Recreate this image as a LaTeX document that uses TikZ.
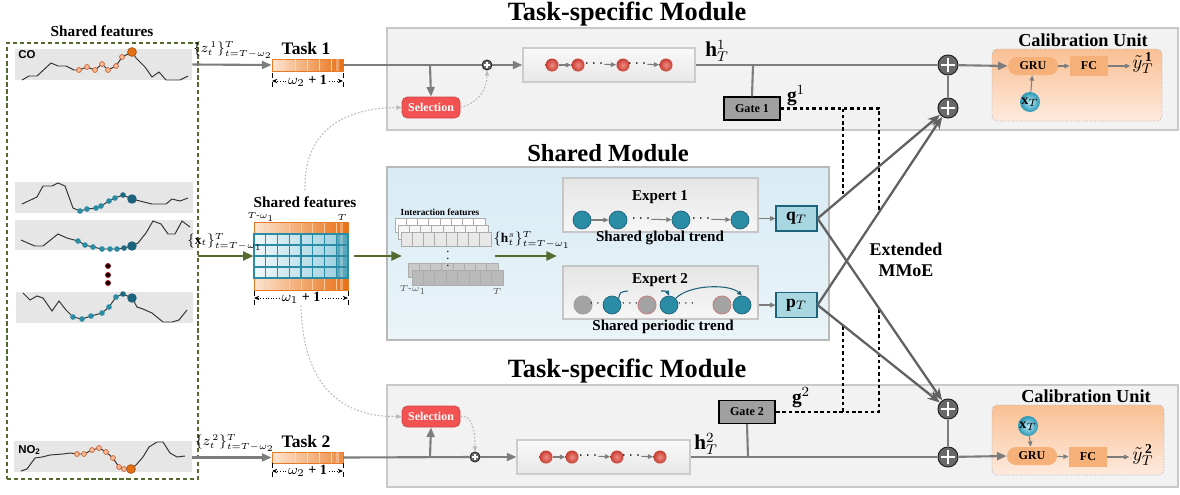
\documentclass[tikz,border=0pt]{standalone}
\usepackage{fontspec}
\setmainfont{Liberation Serif}
\setsansfont{Liberation Sans}
\usetikzlibrary{arrows.meta,calc}
\definecolor{myolive}{RGB}{84,106,46}
\definecolor{modfill}{RGB}{242,242,242}
\definecolor{modline}{RGB}{200,200,200}
\definecolor{chartbg}{RGB}{230,230,230}
\definecolor{orL}{RGB}{253,228,208}
\definecolor{orD}{RGB}{232,112,20}
\definecolor{orEdge}{RGB}{232,122,40}
\definecolor{blL}{RGB}{240,248,251}
\definecolor{blD}{RGB}{150,205,222}
\definecolor{tealC}{RGB}{42,140,165}
\definecolor{tealD}{RGB}{28,98,122}
\definecolor{selred}{RGB}{242,82,82}
\definecolor{gatefill}{RGB}{160,160,160}
\definecolor{plusfill}{RGB}{105,105,105}
\definecolor{calTop}{RGB}{250,192,148}
\definecolor{calBot}{RGB}{253,234,222}
\definecolor{gruFill}{RGB}{246,176,122}
\definecolor{shTop}{RGB}{216,235,244}
\definecolor{shBot}{RGB}{234,244,249}
\definecolor{qFill}{RGB}{168,215,226}
\definecolor{redIn}{RGB}{240,140,128}
\definecolor{redOut}{RGB}{196,62,52}
\definecolor{xbIn}{RGB}{190,235,245}
\definecolor{xbOut}{RGB}{40,150,180}
\definecolor{arrGray}{RGB}{125,125,125}
\definecolor{ptOr}{RGB}{246,187,152}
\definecolor{ptOrE}{RGB}{205,95,45}
\tikzset{
  sz/.style 2 args={minimum width=#1*0.02cm, minimum height=#2*0.02cm, inner sep=0pt},
  ttl/.style={font=\bfseries\fontsize{15}{15}\selectfont},
  modbox/.style={draw=modline, fill=modfill, line width=0.9pt},
  gline/.style={draw=arrGray, line width=1.2pt},
  garrow/.style={gline, -{Triangle[length=5.5pt,width=4.5pt]}},
  tarr/.style={draw=arrGray, line width=0.6pt, -{Triangle[length=3pt,width=2.6pt]}},
  dotcurve/.style={draw=gray!55, line width=0.6pt, dash pattern=on 1pt off 1pt, -{Triangle[length=3pt,width=2.4pt]}},
  gdot/.style={draw=black, line width=1.3pt, dash pattern=on 2pt off 1.6pt},
  xarrow/.style={draw=black!62, line width=1.3pt, -{Stealth[length=7pt,width=5.5pt]}},
  grarrow/.style={draw=myolive, line width=1.6pt, -{Triangle[length=6pt,width=5pt]}},
  pluscirc/.style={circle, draw=black!85, fill=plusfill, inner sep=0pt},
  plusbig/.style={pluscirc, line width=0.6pt, minimum size=20*0.02cm,
     path picture={\draw[white, line width=1.5pt] ([xshift=-3.8pt]path picture bounding box.center) -- ([xshift=3.8pt]path picture bounding box.center) ([yshift=-3.8pt]path picture bounding box.center) -- ([yshift=3.8pt]path picture bounding box.center);}},
  plussm/.style={pluscirc, line width=0.5pt, minimum size=10*0.02cm,
     path picture={\draw[white, line width=0.8pt] ([xshift=-1.8pt]path picture bounding box.center) -- ([xshift=1.8pt]path picture bounding box.center) ([yshift=-1.8pt]path picture bounding box.center) -- ([yshift=1.8pt]path picture bounding box.center);}},
  rc/.style={circle, inner color=redIn, outer color=redOut, minimum size=13*0.02cm, inner sep=0pt},
  tc/.style={circle, fill=tealC, draw=tealD, line width=0.4pt, minimum size=18*0.02cm, inner sep=0pt},
  gc/.style={circle, fill=gray!72, draw=red!35!gray!70, line width=0.6pt, minimum size=18*0.02cm, inner sep=0pt},
  dotsn/.style={inner sep=0.3pt, font=\fontsize{9}{9}\selectfont},
  lstm/.style={draw=gray!40, line width=0.6pt, top color=gray!5, bottom color=gray!18},
  expbox/.style={draw=gray!45, line width=0.6pt, top color=gray!20, bottom color=gray!7},
  sel/.style={rounded corners=3pt, fill=selred, draw=selred!85!black, line width=0.4pt, text=white, font=\bfseries\fontsize{6.8}{7}\selectfont, sz={58}{21}},
  gate/.style={fill=gatefill, draw=black, line width=0.7pt, font=\bfseries\fontsize{6.9}{7}\selectfont, sz={56}{23}},
  calib/.style={rounded corners=3pt, top color=calTop, bottom color=calBot, draw=gray!60, densely dotted, line width=0.5pt},
  grub/.style={rounded corners=5pt, fill=gruFill, font=\bfseries\fontsize{6.9}{7}\selectfont, sz={50}{18}},
  fcb/.style={fill=gruFill, font=\bfseries\fontsize{6.9}{7}\selectfont, sz={38}{20}},
  xball/.style={circle, inner color=xbIn, outer color=xbOut, minimum size=20*0.02cm, inner sep=0pt, font=\fontsize{8}{8}\selectfont},
  qbox/.style={fill=qFill, draw=tealD, line width=0.6pt, font=\fontsize{10}{10}\selectfont, sz={41}{25}},
  ocs/.style={fill=ptOr, draw=ptOrE, line width=0.4pt},
  chartline/.style={draw=black!80, line width=0.55pt},
  dimtick/.style={draw=black, line width=0.5pt, densely dashed},
  dimarr/.style={draw=black, line width=0.5pt, densely dotted, -{Stealth[length=3pt,width=2.5pt]}},
  lbl/.style={font=\fontsize{7.6}{8}\selectfont, inner sep=1pt},
  bsm/.style={font=\bfseries\fontsize{8.6}{9}\selectfont},
  dimlbl/.style={font=\fontsize{8}{8}\selectfont, inner sep=1pt},
}
\begin{document}
\begin{tikzpicture}[x=0.02cm,y=-0.02cm]
\useasboundingbox (0,0) rectangle (1180,494);

% ================= module backgrounds
\node[modbox, sz={791}{102}] (mod1) at (782.5,79) {};
\node[modbox, sz={791}{102}] (mod2) at (782.5,436) {};
\node[draw=gray!55, line width=0.8pt, top color=shTop, bottom color=shBot, sz={442}{173}] (shmod) at (608,253.5) {};
\node[ttl] (mod1t) at (627,14) {Task-specific Module};
\node[ttl] (mod2t) at (627,371) {Task-specific Module};
\node[font=\bfseries\fontsize{14}{14}\selectfont] (shmodt) at (608,153) {Shared Module};

% ================= left panel
\node[font=\bfseries\fontsize{8.7}{9}\selectfont] (sft) at (102,31) {Shared features};
\node[draw=myolive, line width=1.4pt, dash pattern=on 2.4pt off 1.6pt, sz={191}{436}] (leftbox) at (102.5,261) {};
\foreach \n/\cx/\cy/\w/\h in {chart1/103.5/64.5/177/31, chart2/104/197.5/178/31, chart3/104/235/178/30, chart4/104.5/307.5/177/31, chart5/103/456.5/178/31}
  \node[fill=chartbg, sz={\w}{\h}] (\n) at (\cx,\cy) {};
\node[font=\sffamily\bfseries\fontsize{6.5}{7}\selectfont, anchor=west, inner sep=0pt] (colab) at (18,55) {CO};
\node[font=\sffamily\bfseries\fontsize{6.5}{7}\selectfont, anchor=west, inner sep=0pt] (nolab) at (18,450) {NO\textsubscript{2}};

% chart 1
\draw[chartline] plot coordinates {(22,80) (29,76) (37,76) (51,63) (58,66) (66,66) (74,70) (79,70) (87,67) (95,70) (102,64) (108,70) (116,66) (122,57) (132,52) (136,58) (145,67) (152,77) (159,72) (166,80) (180,80) (188,76)};
\foreach \p in {(79,70),(87,67),(95,70),(102,64),(108,70),(116,66),(122,57)} \filldraw[ocs] \p circle[radius=1.4pt];
\filldraw[fill=orD, draw=orD!70!black, line width=0.4pt] (132,52) circle[radius=2.5pt];
% chart 2
\draw[chartline] plot coordinates {(22,204) (37,197) (43,186) (52,186) (58,183) (65,186) (73,208) (80,211) (87,209) (96,208) (101,206) (109,201) (115,198) (123,195) (132,199) (144,202) (152,204) (166,204) (172,199) (180,201) (188,198)};
\foreach \p in {(80,211),(87,209),(96,208),(101,206),(109,201),(115,198)} \fill[tealC] \p circle[radius=1.6pt];
\fill[tealD!80!tealC] (123,195) circle[radius=1.6pt];
\fill[tealD] (132,199) circle[radius=2.7pt];
% chart 3
\draw[chartline] plot coordinates {(21,240) (30,244) (35,246) (43,246) (58,234) (67,238) (78,241) (85,245) (93,247) (102,249) (110,249) (117,249) (124,248) (132,246) (138,243) (146,233) (153,221) (161,224) (168,234) (175,234) (182,221) (190,227)};
\foreach \p in {(78,241),(85,245),(93,247),(102,249),(110,249),(117,249)} \fill[tealC] \p circle[radius=1.6pt];
\fill[tealD!80!tealC] (124,248) circle[radius=1.6pt];
\fill[tealD] (132,246) circle[radius=2.7pt];
% dots
\foreach \p in {(108,266),(108,275),(108,283)} \filldraw[fill=black, draw=red!55!black, line width=0.5pt] \p circle[radius=1.4pt];
% chart 4
\draw[chartline] plot coordinates {(23,293) (30,300) (37,296) (43,298) (52,311) (59,301) (66,310) (73,317) (82,319) (91,316) (102,313) (109,307) (116,297) (123,294) (132,298) (137,307) (143,309) (152,313) (163,322) (172,322) (179,320) (187,310)};
\foreach \p in {(73,317),(82,319),(91,316),(102,313),(109,307),(116,297)} \fill[tealC] \p circle[radius=1.6pt];
\fill[tealD!80!tealC] (123,294) circle[radius=1.6pt];
\fill[tealD] (132,298) circle[radius=2.7pt];
% chart 5
\draw[chartline] plot coordinates {(21,471) (27,469) (35,458) (42,457) (50,455) (63,454) (70,453) (77,454) (84,454) (92,450) (99,448) (106,452) (113,458) (119,467) (124,469) (131,469) (136,465) (143,457) (149,447) (157,442) (163,442) (170,453) (177,457) (185,456)};
\foreach \p in {(77,454),(84,454),(92,450),(99,448),(106,452),(113,458),(119,467),(124,469)} \filldraw[ocs] \p circle[radius=1.4pt];
\filldraw[fill=orD, draw=orD!70!black, line width=0.4pt] (131,469) circle[radius=2.5pt];

% ================= task bars
\node[sz={71}{12}, left color=orL, right color=orD, draw=orEdge, line width=0.5pt] (task1) at (307.5,65) {};
\node[sz={71}{11}, left color=orL, right color=orD!75!orL, draw=orEdge, line width=0.5pt] (task2) at (307.5,457.5) {};
\foreach \t in {task1,task2} {
  \foreach \i in {1,...,5}
    \draw[white!70!orange, line width=0.5pt] ($(\t.north west)!\i/6!(\t.north east)$) -- ($(\t.south west)!\i/6!(\t.south east)$);
  \fill[white, opacity=0.3] ($(\t.north east)+(-7,0)$) rectangle ($(\t.south east)+(-4,0)$);
}
\node[font=\bfseries\fontsize{10}{10}\selectfont] (t1lab) at (306,48) {Task 1};
\node[font=\bfseries\fontsize{10}{10}\selectfont] (t2lab) at (306,441) {Task 2};
\node[lbl] (z1lab) at (233,50) {$\{z_t^{\,1}\}_{t=T-\omega_2}^{T}$};
\node[lbl] (z2lab) at (235,443) {$\{z_t^{\,2}\}_{t=T-\omega_2}^{T}$};
\draw[garrow] (chart1.east) -- (task1.west);
\draw[garrow] (chart5.east |- task2.west) -- (task2.west);
% dimensions
\node[dimlbl] (dm1) at (307.5,81) {$\omega_2$ \textbf{+ 1}};
\node[dimlbl] (dm2) at (307.5,471) {$\omega_2$ \textbf{+ 1}};
\foreach \d/\yy in {dm1/81, dm2/471} {
  \coordinate (\d a) at (272,\yy); \coordinate (\d b) at (343,\yy);
  \draw[dimtick] ($(\d a)+(0,-8)$) -- ($(\d a)+(0,7)$);
  \draw[dimtick] ($(\d b)+(0,-8)$) -- ($(\d b)+(0,7)$);
  \draw[dimarr] (\d.west) -- (\d a);
  \draw[dimarr] (\d.east) -- (\d b);
}

% ================= shared features matrix
\node[font=\bfseries\fontsize{8.7}{9}\selectfont] (sft2) at (305,202) {Shared features};
\shade[left color=orL, right color=orD] (254,222) rectangle (348,234);
\shade[left color=orL, right color=orD] (254,278) rectangle (348,290);
\shade[left color=blL, right color=blD] (254,234) rectangle (348,278);
\fill[tealC, opacity=0.6] (336.25,234) rectangle (348,278);
\fill[white, opacity=0.3] (340,222) rectangle (343,290);
\foreach \i in {1,...,7} {
  \draw[tealC, line width=0.6pt] ({254+\i*11.75},234) -- ({254+\i*11.75},278);
  \draw[white!60!orange, line width=0.5pt] ({254+\i*11.75},222) -- ({254+\i*11.75},234);
  \draw[white!60!orange, line width=0.5pt] ({254+\i*11.75},278) -- ({254+\i*11.75},290);
}
\foreach \yy in {245,256,267} \draw[tealC, line width=0.6pt] (254,\yy) -- (348,\yy);
\draw[orEdge, line width=0.5pt] (254,222) rectangle (348,290);
\draw[tealC, line width=0.8pt] (254,234) rectangle (348,278);
\node[sz={94}{68}] (mat) at (301,256) {};
\node[font=\itshape\fontsize{5.5}{6}\selectfont, inner sep=0.5pt] (mtl) at (261,217) {$T$-$\omega_1$};
\node[font=\fontsize{5.5}{6}\selectfont, inner sep=0.5pt] (mtr) at (342,217) {$T$};
\node[dimlbl] (dm3) at (301,298) {$\omega_1$ \textbf{+ 1}};
\coordinate (dm3a) at (254,298); \coordinate (dm3b) at (348,298);
\draw[dimtick] (254,291) -- (254,305);
\draw[dimtick] (348,291) -- (348,305);
\draw[dimarr] (dm3.west) -- (dm3a);
\draw[dimarr] (dm3.east) -- (dm3b);
\node[lbl] (xlab) at (225,242) {$\{\mathbf{x}_t\}_{t=T-\omega_1}^{T}$};
\coordinate (ga) at (198,256);
\draw[grarrow] (ga) -- (mat.west);
\coordinate (gb) at (402,256);
\draw[grarrow] ($(mat.east)+(6,0)$) -- (gb);

% ================= interaction features
\foreach \xa/\ya/\xb/\yb/\fc in {395/218/485/232/white, 398/225/488/239/gray!8, 401/232/491/246/gray!18, 408/263/498/277/gray!42, 412/270/503/285/gray!55} {
  \filldraw[fill=\fc, draw=gray!65, line width=0.4pt] (\xa,\ya) rectangle (\xb,\yb);
  \foreach \i in {1,...,7}
    \draw[gray!65, line width=0.4pt] ({\xa+\i*(\xb-\xa)/8},\ya) -- ({\xa+\i*(\xb-\xa)/8},\yb);
}
\node[font=\bfseries\fontsize{5.3}{6}\selectfont] (iflab) at (440,212) {Interaction features};
\node[font=\fontsize{7}{7}\selectfont, inner sep=0pt] (ifdots) at (448,254) {$\vdots$};
\node[font=\fontsize{5.5}{6}\selectfont, text=gray!70!black, inner sep=0.5pt] (ifl) at (413,290) {$T$-$\omega_1$};
\node[font=\fontsize{5.5}{6}\selectfont, text=gray!70!black, inner sep=0.5pt] (ifr) at (497,291) {$T$};
\node[lbl] (hslab) at (532,240) {$\{\mathbf{h}_t^{s}\}_{t=T-\omega_1}^{T}$};
\coordinate (hsA) at (495,256); \coordinate (hsB) at (557,256);
\draw[grarrow] (hsA) -- (hsB);

% ================= experts
\node[expbox, sz={195}{54}] (exp1) at (660.5,205) {};
\node[expbox, sz={195}{53}] (exp2) at (660.5,292.5) {};
\node[bsm] (e1lab) at (660,197) {Expert 1};
\node[bsm] (e2lab) at (660,280) {Expert 2};
\node[bsm] (e1sub) at (660,238) {Shared global trend};
\node[bsm] (e2sub) at (663,327) {Shared periodic trend};
\node[tc] (e11) at (582,220) {};
\node[tc] (e12) at (618,220) {};
\node[dotsn] (ed1) at (641,219) {$\cdots$};
\node[tc] (e13) at (681,220) {};
\node[dotsn] (ed2) at (701,219) {$\cdots$};
\node[tc] (e14) at (740,220) {};
\draw[tarr] (e11) -- (e12);
\draw[tarr] (ed1) -- (e13);
\draw[tarr] (ed2) -- (e14);
\node[gc, draw=gray!72] (g21) at (583,305) {};
\node[dotsn, font=\fontsize{7}{7}\selectfont] (ed3) at (598,304) {$\cdots$};
\node[tc] (t21) at (612,305) {};
\node[dotsn, font=\fontsize{7}{7}\selectfont] (ed4) at (630,304) {$\cdots$};
\node[gc] (g22) at (647,305) {};
\node[tc] (t22) at (669,305) {};
\node[dotsn, font=\fontsize{7}{7}\selectfont] (ed5) at (686,304) {$\cdots$};
\node[gc] (g23) at (722,305) {};
\node[tc] (t23) at (742,305) {};
\coordinate (arcA) at (628,291); \coordinate (arcB) at (661,291);
\draw[tealD, line width=0.6pt] (t21.north east) .. controls (620,292) .. (arcA);
\draw[tealD, line width=0.6pt, -{Triangle[length=2.8pt,width=2.4pt]}] (arcB) .. controls (667,291) .. (t22.north);
\draw[tealD, line width=0.6pt, -{Triangle[length=2.8pt,width=2.4pt]}] (t22.north east) .. controls (690,284) and (730,284) .. (t23.north);
\node[qbox] (qT) at (796.5,218.5) {$\mathbf{q}_T$};
\node[qbox] (pT) at (796.5,305) {$\mathbf{p}_T$};
\draw[tarr, line width=0.8pt] (exp1.east |- qT.west) -- (qT.west);
\draw[tarr, line width=0.8pt] (exp2.east |- pT.west) -- (pT.west);

% ================= top task chain
\node[plussm] (ps1) at (487,65) {};
\node[lstm, sz={172}{34}] (lstm1) at (609,65) {};
\node[rc] (r11) at (552,65) {};
\node[rc] (r12) at (578,65) {};
\node[dotsn] (ld11) at (594,64) {$\cdots$};
\node[rc] (r13) at (623,65) {};
\node[dotsn] (ld12) at (637,64) {$\cdots$};
\node[rc] (r14) at (666,65) {};
\draw[tarr] (r11) -- (r12);
\draw[tarr] (ld11) -- (r13);
\draw[tarr] (ld12) -- (r14);
\node[sel] (sel1) at (431,107.5) {Selection};
\coordinate (br1) at (430,65);
\draw[gline] (task1.east) -- (ps1);
\draw[garrow] (br1) -- (sel1.north);
\draw[garrow] (ps1) -- (lstm1.west);
\draw[dotcurve] (sel1.east) .. controls (478,103) and (487,90) .. (ps1.south);
\draw[dotcurve] (sft2.north) .. controls (303,130) and (345,108) .. (sel1.west);
\node[gate] (gate1) at (752,108.5) {Gate 1};
\coordinate (br1g) at (753,65);
\node[plusbig] (p1) at (948,65) {};
\node[plusbig] (p2) at (948,108) {};
\draw[gline] (lstm1.east) -- (p1);
\draw[gline] (br1g) -- (gate1.north);
\draw[gline] (p2) -- (p1);
\node[font=\fontsize{12}{12}\selectfont] (h1) at (717,51) {$\mathbf{h}_T^{1}$};
\node[font=\fontsize{11}{11}\selectfont] (g1) at (796,96) {$\mathbf{g}^{1}$};

% calibration 1
\node[calib, sz={170}{72}] (cal1) at (1077,85) {};
\node[font=\bfseries\fontsize{10.4}{11}\selectfont] (cal1t) at (1083,40) {Calibration Unit};
\node[grub] (gru1) at (1033,66) {GRU};
\node[fcb] (fc1) at (1089,66) {FC};
\node[font=\fontsize{11}{11}\selectfont, inner sep=1pt] (y1) at (1143,63) {$\tilde{y}_T^{\,\mathbf{1}}$};
\node[xball] (xt1) at (1030,102) {$\mathbf{x}_T$};
\draw[garrow] (p1) -- (gru1.west);
\draw[tarr] (gru1) -- (fc1);
\draw[tarr] (fc1.east) -- ++(22,0);
\draw[tarr] (xt1) -- (gru1);

% ================= bottom task chain
\node[plussm] (ps2) at (475,457) {};
\node[lstm, sz={173}{34}] (lstm2) at (603.5,457) {};
\node[rc] (r21) at (546,457) {};
\node[rc] (r22) at (572,457) {};
\node[dotsn] (ld21) at (588,456) {$\cdots$};
\node[rc] (r23) at (617,457) {};
\node[dotsn] (ld22) at (631,456) {$\cdots$};
\node[rc] (r24) at (660,457) {};
\draw[tarr] (r21) -- (r22);
\draw[tarr] (ld21) -- (r23);
\draw[tarr] (ld22) -- (r24);
\node[sel] (sel2) at (431,416.5) {Selection};
\coordinate (br2) at (430,457);
\draw[gline] (task2.east) -- (ps2);
\draw[garrow] (br2) -- (sel2.south);
\draw[garrow] (ps2) -- (lstm2.west);
\draw[dotcurve] (sel2.east) .. controls (472,414) and (475,430) .. (ps2.north);
\draw[dotcurve] (dm3.south) .. controls (303,390) and (345,417) .. (sel2.west);
\node[gate] (gate2) at (747,412) {Gate 2};
\coordinate (br2g) at (748,457);
\node[plusbig] (p3) at (948,409) {};
\node[plusbig] (p4) at (948,457) {};
\draw[gline] (lstm2.east) -- (p4);
\draw[gline] (br2g) -- (gate2.south);
\draw[gline] (p3) -- (p4);
\node[font=\fontsize{12}{12}\selectfont] (h2) at (706,444) {$\mathbf{h}_T^{2}$};
\node[font=\fontsize{11}{11}\selectfont] (g2) at (801,398) {$\mathbf{g}^{2}$};

% calibration 2
\node[calib, sz={172}{70}] (cal2) at (1078,440) {};
\node[font=\bfseries\fontsize{10.4}{11}\selectfont] (cal2t) at (1086,396) {Calibration Unit};
\node[grub] (gru2) at (1032,456) {GRU};
\node[fcb] (fc2) at (1088,457) {FC};
\node[font=\fontsize{11}{11}\selectfont, inner sep=1pt] (y2) at (1143,455) {$\tilde{y}_T^{\,\mathbf{2}}$};
\node[xball] (xt2) at (1028,426) {$\mathbf{x}_T$};
\draw[garrow] (p4) -- (gru2.west);
\draw[tarr] (gru2) -- (fc2);
\draw[tarr] (fc2.east) -- ++(22,0);
\draw[tarr] (xt2) -- (gru2);

% ================= gate dotted lines
\coordinate (dA) at (879,108.5); \coordinate (dA2) at (879,212);
\coordinate (dB) at (879,309);   \coordinate (dB2) at (879,412);
\coordinate (dC) at (843,108.5); \coordinate (dC2) at (843,196);
\coordinate (dD) at (843,326);   \coordinate (dD2) at (843,412);
\draw[gdot] (gate1.east) -- (dA) -- (dA2);
\draw[gdot] (dB) -- (dB2) -- (gate2.east);
\draw[gdot] (dC) -- (dC2);
\draw[gdot] (dD) -- (dD2);

% ================= extended MMoE
\draw[xarrow] (qT.east) -- (p2);
\draw[xarrow] (pT.east) -- (p2);
\draw[xarrow] (qT.east) -- (p3);
\draw[xarrow] (pT.east) -- (p3);
\node[font=\bfseries\fontsize{10.2}{12}\selectfont, align=center] (mmoe) at (906,260) {Extended\\MMoE};
\end{tikzpicture}
\end{document}
